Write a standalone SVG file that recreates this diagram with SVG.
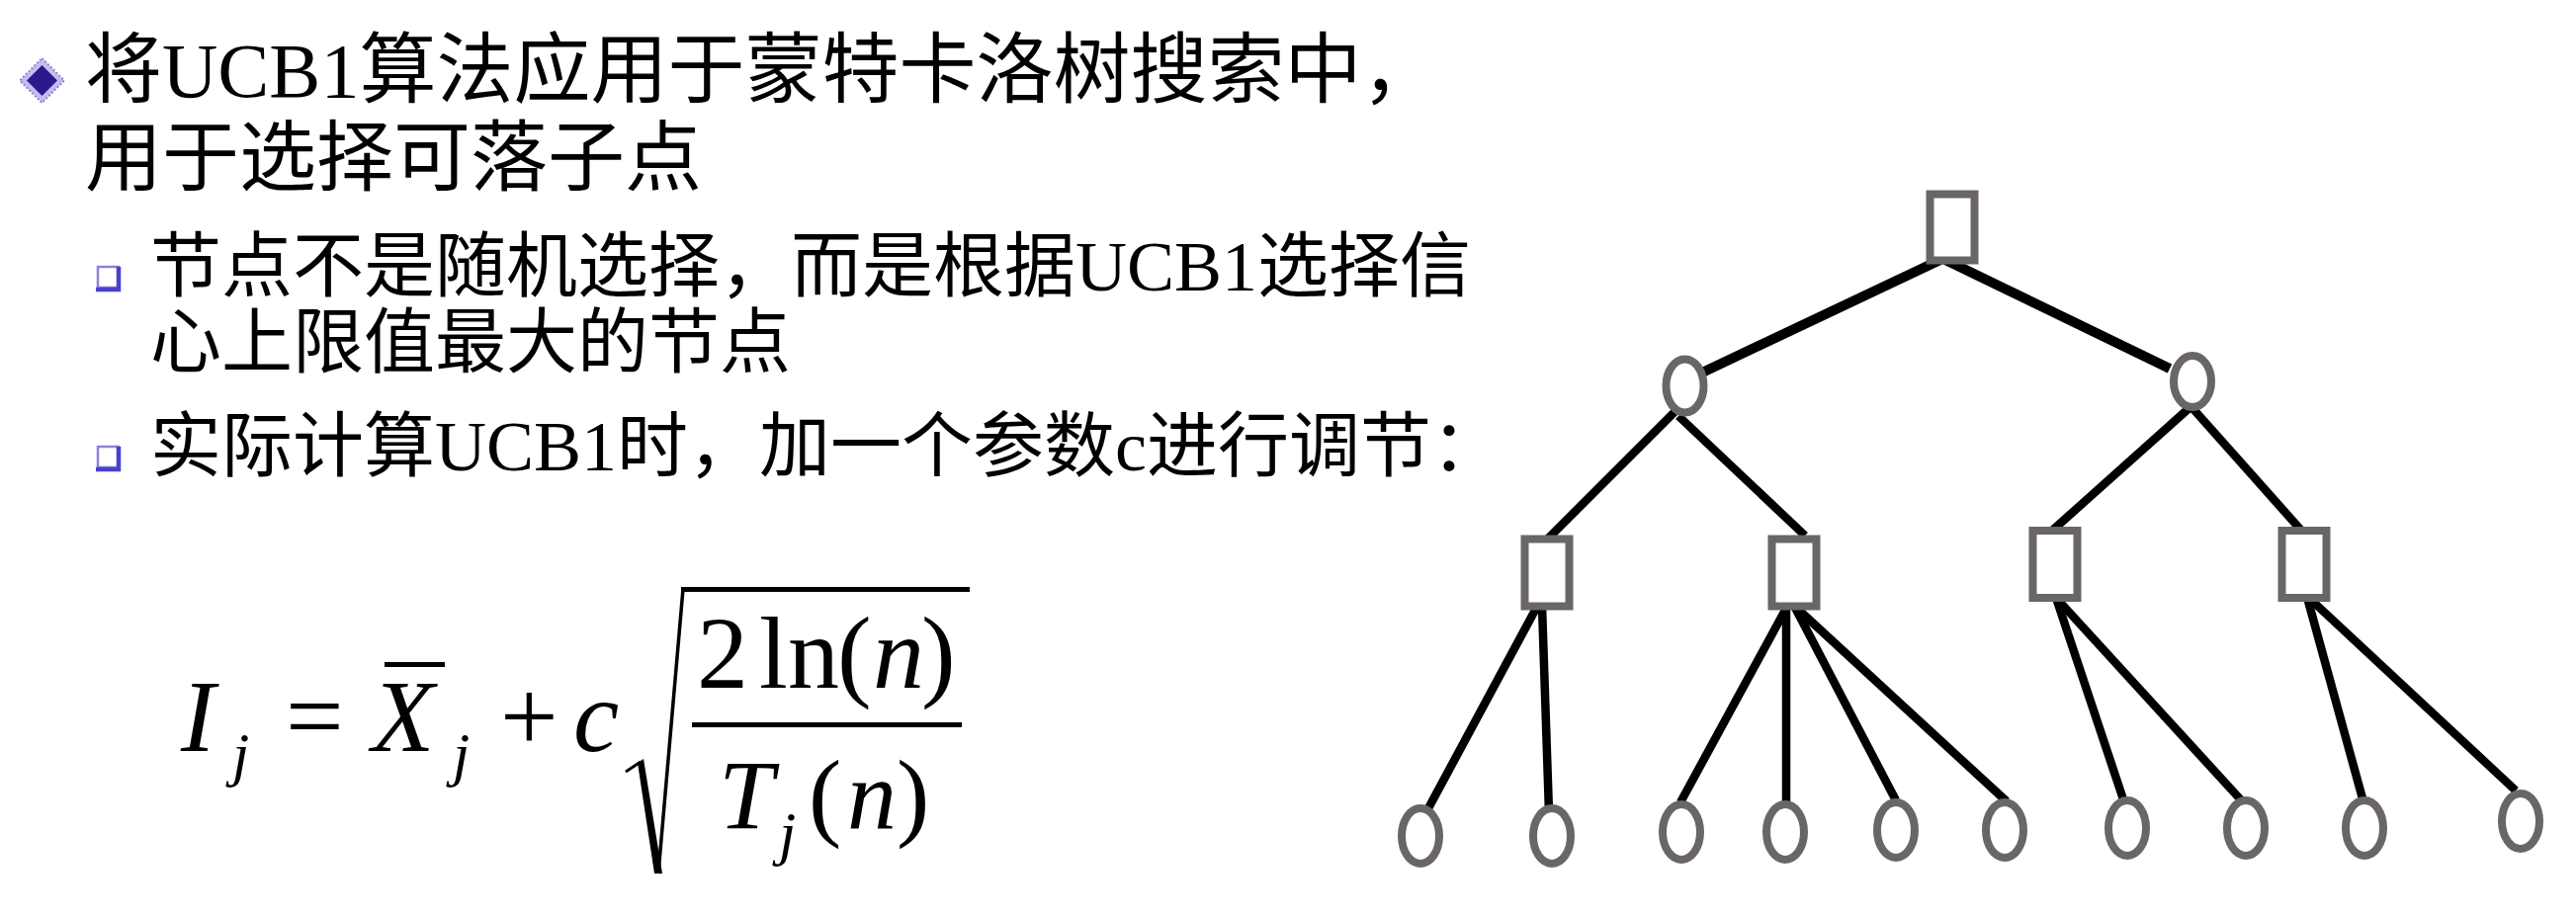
<svg xmlns="http://www.w3.org/2000/svg" width="2606" height="928" viewBox="0 0 2606 928">
<defs>
<style>
.t1{font-family:"Liberation Serif","Noto Sans CJK SC",serif;font-size:78px;fill:#000}
.t2{font-family:"Liberation Serif","Noto Sans CJK SC",serif;font-size:72px;fill:#000}
.m{font-family:"Liberation Serif",serif;fill:#000}
.mi{font-family:"Liberation Serif",serif;font-style:italic;fill:#000}
.edge{stroke:#000;stroke-width:8.5;fill:none}
.edge1{stroke:#000;stroke-width:10;fill:none}
.sq{fill:#fff;stroke:#6a6666;stroke-width:8}
.ci{fill:#fff;stroke:#6a6666;stroke-width:8}
</style>
<g id="subbullet">
<rect x="99" y="270" width="21" height="21" fill="#fff" stroke="#8a82e0" stroke-width="2.5"/>
<path d="M120 270 V293 H97" fill="none" stroke="#4a40cc" stroke-width="4.5"/>
</g>
</defs>
<rect width="2606" height="928" fill="#fff"/>

<g id="text">
<polygon points="42.5,59 65,81.5 42.5,104 20,81.5" fill="#c4bdf0" stroke="#8a80d8" stroke-width="2" stroke-dasharray="2 2"/>
<polygon points="42.5,66 58,81.5 42.5,97 27,81.5" fill="#2b1a8c"/>
<text class="t1" x="86" y="98">将UCB1算法应用于蒙特卡洛树搜索中，</text>
<text class="t1" x="86" y="187">用于选择可落子点</text>
<use href="#subbullet"/>
<text class="t2" x="152" y="294">节点不是随机选择，而是根据UCB1选择信</text>
<text class="t2" x="152" y="371">心上限值最大的节点</text>
<use href="#subbullet" y="182"/>
<text class="t2" x="152" y="476">实际计算UCB1时，加一个参数c进行调节：</text>
</g>

<g id="formula">
<text class="mi" x="183" y="760" font-size="104">I</text>
<text class="mi" x="235" y="784" font-size="62">j</text>
<text class="m" x="289" y="760" font-size="104">=</text>
<text class="mi" x="376" y="760" font-size="104">X</text>
<line x1="389" y1="672.5" x2="450" y2="672.5" stroke="#000" stroke-width="5"/>
<text class="mi" x="458" y="784" font-size="62">j</text>
<text class="m" x="506" y="760" font-size="104">+</text>
<text class="mi" x="580" y="760" font-size="104">c</text>
<line x1="633" y1="781" x2="648" y2="771" stroke="#000" stroke-width="3"/>
<polygon points="645,772 651,768 670,884 662,884" fill="#000"/>
<line x1="666" y1="884" x2="691" y2="596" stroke="#000" stroke-width="3.5"/>
<line x1="689" y1="596.5" x2="981" y2="596.5" stroke="#000" stroke-width="5"/>
<text class="m" x="705" y="696" font-size="104">2</text>
<text class="m" x="768" y="696" font-size="104">ln</text>
<text class="m" x="847" y="696" font-size="104">(</text>
<text class="mi" x="883" y="696" font-size="104">n</text>
<text class="m" x="932" y="696" font-size="104">)</text>
<rect x="700" y="731" width="273" height="5" fill="#000"/>
<text class="mi" x="727" y="838" font-size="100">T</text>
<text class="mi" x="788" y="864" font-size="62">j</text>
<text class="m" x="818" y="838" font-size="100">(</text>
<text class="mi" x="857" y="838" font-size="100">n</text>
<text class="m" x="907" y="838" font-size="100">)</text>
</g>

<g id="connectors">
<line class="edge1" x1="1965" y1="262" x2="1720" y2="378"/>
<line class="edge1" x1="1968" y1="263" x2="2195" y2="373"/>
<line class="edge" x1="1694" y1="417" x2="1565" y2="546"/>
<line class="edge" x1="1698" y1="421" x2="1826" y2="542"/>
<line class="edge" x1="2218" y1="410" x2="2076" y2="537"/>
<line class="edge" x1="2218" y1="413" x2="2331" y2="540"/>
<line class="edge" x1="1557" y1="610" x2="1445" y2="818"/>
<line class="edge" x1="1560" y1="613" x2="1567" y2="822"/>
<line class="edge" x1="1810" y1="610" x2="1700" y2="812"/>
<line class="edge" x1="1807" y1="613" x2="1807" y2="815"/>
<line class="edge" x1="1815" y1="613" x2="1918" y2="810"/>
<line class="edge" x1="1815" y1="613" x2="2030" y2="811"/>
<line class="edge" x1="2080" y1="605" x2="2150" y2="815"/>
<line class="edge" x1="2080" y1="605" x2="2272" y2="815"/>
<line class="edge" x1="2335" y1="608" x2="2390" y2="808"/>
<line class="edge" x1="2339" y1="608" x2="2545" y2="800"/>
</g>

<g id="root"><rect class="sq" x="1952.5" y="196.5" width="45" height="67"/></g>
<g id="n1L"><ellipse class="ci" cx="1704.5" cy="390.5" rx="19" ry="27"/></g>
<g id="n1R"><ellipse class="ci" cx="2218" cy="386" rx="19" ry="26"/></g>
<g id="n2LL"><rect class="sq" x="1542.5" y="545.5" width="45" height="68"/></g>
<g id="n2LR"><rect class="sq" x="1792.5" y="545.5" width="45" height="68"/></g>
<g id="n2RL"><rect class="sq" x="2056.5" y="537" width="45" height="68"/></g>
<g id="n2RR"><rect class="sq" x="2308.5" y="537" width="45" height="68"/></g>
<g id="leaf1"><ellipse class="ci" cx="1437" cy="846" rx="19" ry="28"/></g>
<g id="leaf2"><ellipse class="ci" cx="1570" cy="846" rx="19" ry="28"/></g>
<g id="leaf3"><ellipse class="ci" cx="1701" cy="842" rx="19" ry="28"/></g>
<g id="leaf4"><ellipse class="ci" cx="1806" cy="842" rx="19" ry="28"/></g>
<g id="leaf5"><ellipse class="ci" cx="1918" cy="840" rx="19" ry="28"/></g>
<g id="leaf6"><ellipse class="ci" cx="2028" cy="840" rx="19" ry="28"/></g>
<g id="leaf7"><ellipse class="ci" cx="2152" cy="838" rx="19" ry="28"/></g>
<g id="leaf8"><ellipse class="ci" cx="2272" cy="838" rx="19" ry="28"/></g>
<g id="leaf9"><ellipse class="ci" cx="2392" cy="838" rx="19" ry="28"/></g>
<g id="leaf10"><ellipse class="ci" cx="2550" cy="831" rx="19" ry="28"/></g>
</svg>
